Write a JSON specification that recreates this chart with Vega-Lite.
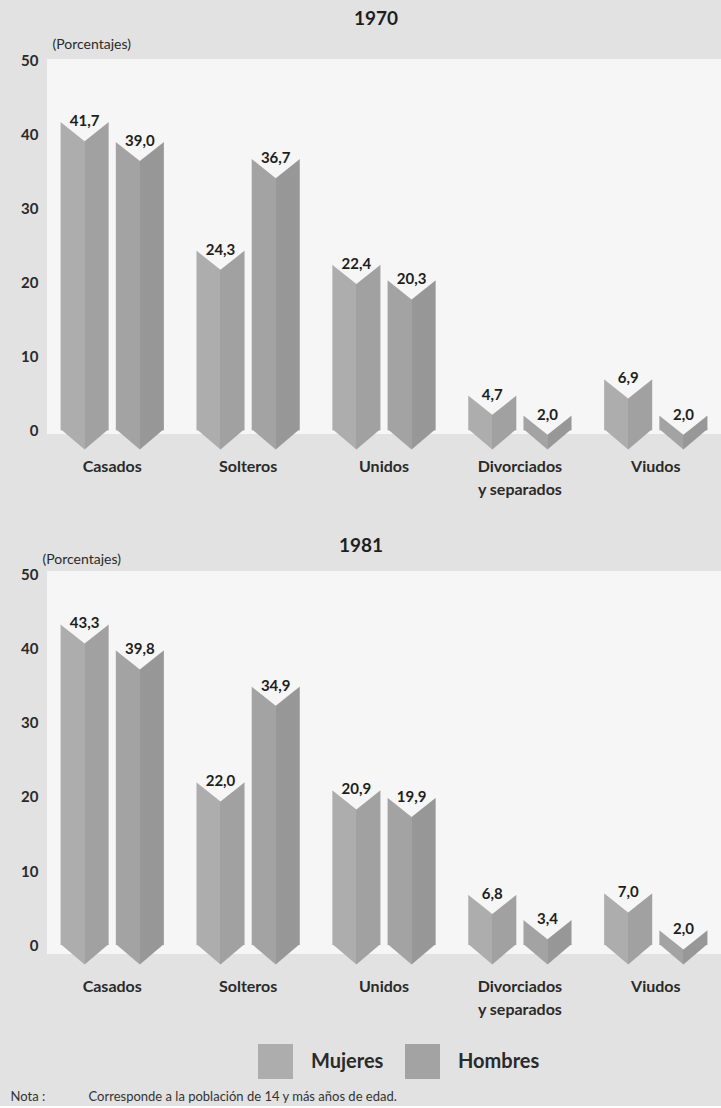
{
  "$schema": "https://vega.github.io/schema/vega-lite/v6.json",
  "padding": {"left": 10, "top": 10, "right": 0, "bottom": 2},
  "background": "#e2e2e2",
  "config": {
    "font": "Lato",
    "view": {"fill": "#f6f6f6", "stroke": null},
    "locale": {"number": {"decimal": ",", "thousands": ".", "grouping": [3], "currency": ["", ""]}},
    "axis": {"grid": false, "domain": false, "ticks": false, "labelColor": "#2a2a2a", "titleColor": "#2a2a2a"},
    "legend": {"symbolType": "square", "symbolStrokeWidth": 0, "symbolOpacity": 1, "labelFontSize": 20, "labelFont": "Lato", "labelFontWeight": "bold", "labelColor": "#2a2a2a", "labelOffset": 18, "columnPadding": 21, "symbolSize": 1225, "direction": "horizontal", "title": null},
    "concat": {"spacing": 40}
  },
  "title": {"text": "Nota :\u00a0\u00a0\u00a0\u00a0\u00a0\u00a0\u00a0\u00a0\u00a0\u00a0\u00a0\u00a0\u00a0Corresponde a la población de 14 y más años de edad.", "orient": "bottom", "anchor": "start", "fontSize": 13, "fontWeight": "normal", "color": "#333333", "font": "Lato", "offset": 12, "dx": -10},
  "data": {"values": [
    {"year": 1970, "cat": "Casados", "sex": "Mujeres", "value": 41.7},
    {"year": 1970, "cat": "Casados", "sex": "Hombres", "value": 39.0},
    {"year": 1970, "cat": "Solteros", "sex": "Mujeres", "value": 24.3},
    {"year": 1970, "cat": "Solteros", "sex": "Hombres", "value": 36.7},
    {"year": 1970, "cat": "Unidos", "sex": "Mujeres", "value": 22.4},
    {"year": 1970, "cat": "Unidos", "sex": "Hombres", "value": 20.3},
    {"year": 1970, "cat": "Divorciados y separados", "sex": "Mujeres", "value": 4.7},
    {"year": 1970, "cat": "Divorciados y separados", "sex": "Hombres", "value": 2.0},
    {"year": 1970, "cat": "Viudos", "sex": "Mujeres", "value": 6.9},
    {"year": 1970, "cat": "Viudos", "sex": "Hombres", "value": 2.0},
    {"year": 1981, "cat": "Casados", "sex": "Mujeres", "value": 43.3},
    {"year": 1981, "cat": "Casados", "sex": "Hombres", "value": 39.8},
    {"year": 1981, "cat": "Solteros", "sex": "Mujeres", "value": 22.0},
    {"year": 1981, "cat": "Solteros", "sex": "Hombres", "value": 34.9},
    {"year": 1981, "cat": "Unidos", "sex": "Mujeres", "value": 20.9},
    {"year": 1981, "cat": "Unidos", "sex": "Hombres", "value": 19.9},
    {"year": 1981, "cat": "Divorciados y separados", "sex": "Mujeres", "value": 6.8},
    {"year": 1981, "cat": "Divorciados y separados", "sex": "Hombres", "value": 3.4},
    {"year": 1981, "cat": "Viudos", "sex": "Mujeres", "value": 7.0},
    {"year": 1981, "cat": "Viudos", "sex": "Hombres", "value": 2.0}
  ]},
  "vconcat": [
    {
      "title": {"text": "1970", "frame": "group", "offset": 8, "fontSize": 19, "fontWeight": "bold", "color": "#1e1e1e", "dx": -8},
      "width": 674,
      "height": 375,
      "transform": [{"filter": "datum.year == 1970"}],
      "encoding": {
        "x": {"field": "cat", "type": "nominal", "sort": ["Casados", "Solteros", "Unidos", "Divorciados y separados", "Viudos"], "scale": {"paddingInner": 0.24, "paddingOuter": 0.1},
          "axis": {"title": null, "labelAngle": 0, "labelFontSize": 16, "labelFontWeight": "bold", "labelPadding": 24, "labelLineHeight": 23, "labelExpr": "datum.value == 'Divorciados y separados' ? ['Divorciados', 'y separados'] : datum.value"}},
        "xOffset": {"field": "sex", "type": "nominal", "sort": ["Mujeres", "Hombres"], "scale": {"paddingInner": 0.13}},
        "y": {"field": "value", "type": "quantitative", "scale": {"domain": [-0.5, 50.2], "nice": false, "zero": false},
          "axis": {"values": [0, 10, 20, 30, 40, 50], "labelFontSize": 15, "labelFontWeight": "bold", "labelPadding": 9, "title": "(Porcentajes)", "titleAngle": 0, "titleAlign": "left", "titleBaseline": "middle", "titleFontSize": 14, "titleFontWeight": "normal", "titleX": 5, "titleY": -15}}
      },
      "layer": [
        {"mark": {"type": "bar"}, "encoding": {"y2": {"datum": 0}, "color": {"field": "sex", "type": "nominal", "scale": {"domain": ["Mujeres", "Hombres"], "range": ["#adadad", "#a3a3a3"]}, "legend": {"orient": "none", "legendX": 211, "legendY": 985}}}},
        {"mark": {"type": "bar", "fill": {"gradient": "linear", "stops": [{"offset": 0, "color": "rgba(0,0,0,0)"}, {"offset": 0.5, "color": "rgba(0,0,0,0)"}, {"offset": 0.5, "color": "rgba(0,0,0,0.07)"}, {"offset": 1, "color": "rgba(0,0,0,0.07)"}]}}, "encoding": {"y2": {"datum": 0}}},
        {"mark": {"type": "point", "shape": "M-1,-0.05L1,-0.05L0,0.8Z", "size": 2323, "filled": true, "opacity": 1, "strokeWidth": 0}, "encoding": {"y": {"datum": 0}, "fill": {"field": "sex", "type": "nominal", "scale": {"domain": ["Mujeres", "Hombres"], "range": ["#adadad", "#a3a3a3"]}, "legend": null}}},
        {"mark": {"type": "point", "shape": "M-1,-0.05L1,-0.05L0,0.8Z", "size": 2323, "filled": true, "opacity": 1, "strokeWidth": 0, "fill": {"gradient": "linear", "stops": [{"offset": 0, "color": "rgba(0,0,0,0)"}, {"offset": 0.5, "color": "rgba(0,0,0,0)"}, {"offset": 0.5, "color": "rgba(0,0,0,0.07)"}, {"offset": 1, "color": "rgba(0,0,0,0.07)"}]}}, "encoding": {"y": {"datum": 0}}},
        {"mark": {"type": "point", "shape": "M-1.08,-0.06L1.08,-0.06L0,0.8Z", "size": 2323, "filled": true, "opacity": 1, "strokeWidth": 0, "fill": "#f6f6f6"}},
        {"mark": {"type": "text", "fontSize": 15, "fontWeight": "bold", "color": "#1e1e1e", "baseline": "middle", "dy": -1}, "encoding": {"text": {"field": "value", "type": "quantitative", "format": ".1f"}}}
      ]
    },
    {
      "title": {"text": "1981", "frame": "group", "offset": -4, "fontSize": 19, "fontWeight": "bold", "color": "#1e1e1e", "dx": -23},
      "width": 674,
      "height": 383,
      "transform": [{"filter": "datum.year == 1981"}],
      "encoding": {
        "x": {"field": "cat", "type": "nominal", "sort": ["Casados", "Solteros", "Unidos", "Divorciados y separados", "Viudos"], "scale": {"paddingInner": 0.24, "paddingOuter": 0.1},
          "axis": {"title": null, "labelAngle": 0, "labelFontSize": 16, "labelFontWeight": "bold", "labelPadding": 24, "labelLineHeight": 23, "labelExpr": "datum.value == 'Divorciados y separados' ? ['Divorciados', 'y separados'] : datum.value"}},
        "xOffset": {"field": "sex", "type": "nominal", "sort": ["Mujeres", "Hombres"], "scale": {"paddingInner": 0.13}},
        "y": {"field": "value", "type": "quantitative", "scale": {"domain": [-1.2, 50.5], "nice": false, "zero": false},
          "axis": {"values": [0, 10, 20, 30, 40, 50], "labelFontSize": 15, "labelFontWeight": "bold", "labelPadding": 9, "title": "(Porcentajes)", "titleAngle": 0, "titleAlign": "left", "titleBaseline": "middle", "titleFontSize": 14, "titleFontWeight": "normal", "titleX": -5, "titleY": -12}}
      },
      "layer": [
        {"mark": {"type": "bar"}, "encoding": {"y2": {"datum": 0}, "color": {"field": "sex", "type": "nominal", "scale": {"domain": ["Mujeres", "Hombres"], "range": ["#adadad", "#a3a3a3"]}, "legend": {"orient": "none", "legendX": 211, "legendY": 985}}}},
        {"mark": {"type": "bar", "fill": {"gradient": "linear", "stops": [{"offset": 0, "color": "rgba(0,0,0,0)"}, {"offset": 0.5, "color": "rgba(0,0,0,0)"}, {"offset": 0.5, "color": "rgba(0,0,0,0.07)"}, {"offset": 1, "color": "rgba(0,0,0,0.07)"}]}}, "encoding": {"y2": {"datum": 0}}},
        {"mark": {"type": "point", "shape": "M-1,-0.05L1,-0.05L0,0.8Z", "size": 2323, "filled": true, "opacity": 1, "strokeWidth": 0}, "encoding": {"y": {"datum": 0}, "fill": {"field": "sex", "type": "nominal", "scale": {"domain": ["Mujeres", "Hombres"], "range": ["#adadad", "#a3a3a3"]}, "legend": null}}},
        {"mark": {"type": "point", "shape": "M-1,-0.05L1,-0.05L0,0.8Z", "size": 2323, "filled": true, "opacity": 1, "strokeWidth": 0, "fill": {"gradient": "linear", "stops": [{"offset": 0, "color": "rgba(0,0,0,0)"}, {"offset": 0.5, "color": "rgba(0,0,0,0)"}, {"offset": 0.5, "color": "rgba(0,0,0,0.07)"}, {"offset": 1, "color": "rgba(0,0,0,0.07)"}]}}, "encoding": {"y": {"datum": 0}}},
        {"mark": {"type": "point", "shape": "M-1.08,-0.06L1.08,-0.06L0,0.8Z", "size": 2323, "filled": true, "opacity": 1, "strokeWidth": 0, "fill": "#f6f6f6"}},
        {"mark": {"type": "text", "fontSize": 15, "fontWeight": "bold", "color": "#1e1e1e", "baseline": "middle", "dy": -1}, "encoding": {"text": {"field": "value", "type": "quantitative", "format": ".1f"}}}
      ]
    }
  ]
}
